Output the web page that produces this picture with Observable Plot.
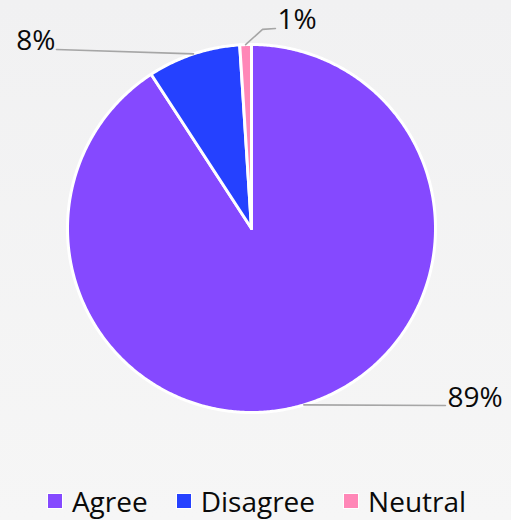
<!DOCTYPE html>
<html><head><meta charset="utf-8">
<script src="https://cdn.jsdelivr.net/npm/d3@7"></script>
<script src="https://cdn.jsdelivr.net/npm/@observablehq/plot@0.6"></script>
<style>
html,body{margin:0;padding:0}
body{width:511px;height:520px;background:linear-gradient(#f1f1f2,#f6f6f6);font-family:"Open Sans",sans-serif;overflow:hidden}
#chart svg{display:block;background:transparent}
#legend{display:flex;justify-content:center;align-items:center;height:50px;padding-top:11px;padding-left:2px;box-sizing:border-box}
.item{display:flex;align-items:center;margin:0 14px;font-size:28px;color:#0a0a0a}
.sw{width:14px;height:14px;border:1.5px solid #fff;margin-right:9px}
</style></head><body><div id="chart"></div><div id="legend"></div>
<script>
// data
const categories = ["Agree", "Disagree", "Neutral"];
const values = [89, 8, 1];
const labels = ["89%", "8%", "1%"];
const colors = ["#8549FF", "#2541FF", "#FF87B7"];

// layout (px)
const W = 511, H = 470, cx = 251, cy = 228, R = 184;
// callout leader ends, in pie-radius units (layout, not data)
const callouts = {
  Agree:    {pts: [[1.054, -0.962]], anchor: "start"},
  Disagree: {pts: [[-1.060, 0.973]], anchor: "end"},
  Neutral:  {pts: [[0.060, 1.082], [0.130, 1.087]], anchor: "start"}
};

const arcs = d3.pie().sort(null).startAngle(0).endAngle(2 * Math.PI)(values);
const slicePts = [];
const leaderPts = [];
const labelPts = [];
arcs.forEach((a, i) => {
  const cat = categories[i];
  slicePts.push({cat, x: 0, y: 0});
  const n = Math.max(4, Math.ceil((a.endAngle - a.startAngle) / (Math.PI / 360)));
  for (let k = 0; k <= n; k++) {
    const t = a.startAngle + (a.endAngle - a.startAngle) * k / n;
    slicePts.push({cat, x: Math.sin(t), y: Math.cos(t)});
  }
  slicePts.push({cat, x: 0, y: 0});
  const m = (a.startAngle + a.endAngle) / 2;
  leaderPts.push({cat, x: Math.sin(m), y: Math.cos(m)});
  const c = callouts[cat];
  c.pts.forEach(p => leaderPts.push({cat, x: p[0], y: p[1]}));
  const last = c.pts[c.pts.length - 1];
  labelPts.push({cat, x: last[0], y: last[1], text: labels[i], anchor: c.anchor});
});

const plot = Plot.plot({
  width: W, height: H,
  margin: 0,
  style: {background: "transparent", fontFamily: "'Open Sans', sans-serif"},
  x: {domain: [-cx / R, (W - cx) / R], axis: null},
  y: {domain: [-(H - cy) / R, cy / R], axis: null},
  color: {domain: categories, range: colors},
  marks: [
    Plot.line(slicePts, {x: "x", y: "y", z: "cat", fill: "cat", stroke: "#fff", strokeWidth: 3, strokeLinejoin: "round"}),
    Plot.line(leaderPts, {x: "x", y: "y", z: "cat", stroke: "#a6a6a6", strokeWidth: 1.6}),
    Plot.text(labelPts.filter(d => d.anchor === "start"), {x: "x", y: "y", text: "text", textAnchor: "start", lineAnchor: "bottom", dx: 2, dy: 1, fontSize: 28, fill: "#0a0a0a"}),
    Plot.text(labelPts.filter(d => d.anchor === "end"), {x: "x", y: "y", text: "text", textAnchor: "end", lineAnchor: "bottom", dx: -1, dy: 1, fontSize: 28, fill: "#0a0a0a"})
  ]
});
document.getElementById("chart").appendChild(plot);

const legend = document.getElementById("legend");
categories.forEach((c, i) => {
  const it = document.createElement("div");
  it.className = "item";
  const sw = document.createElement("span");
  sw.className = "sw";
  sw.style.background = colors[i];
  const tx = document.createElement("span");
  tx.textContent = c;
  it.appendChild(sw); it.appendChild(tx);
  legend.appendChild(it);
});
</script>
</body></html>
